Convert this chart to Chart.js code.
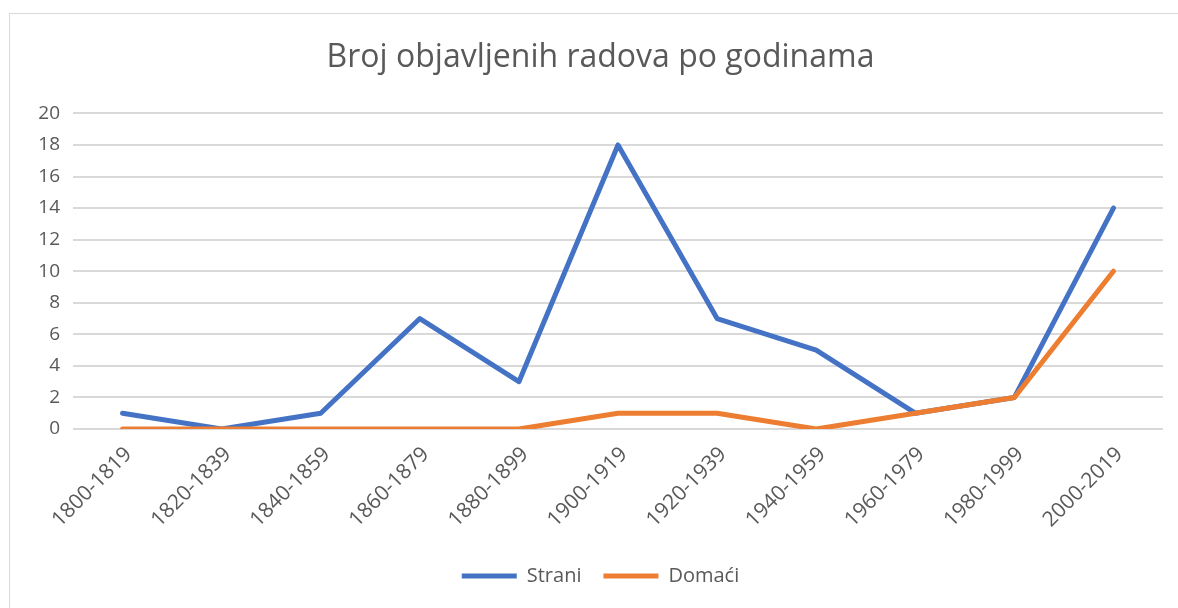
<!DOCTYPE html>
<html>
<head>
<meta charset="utf-8">
<script src="https://cdn.jsdelivr.net/npm/chart.js@4"></script>
<style>
  html, body { margin: 0; padding: 0; background: #fff; overflow: hidden; }
  #frame { position: absolute; left: 9px; top: 13px; width: 1200px; height: 640px; border: 1px solid #d9d9d9; }
  #wrap { position: absolute; left: 0; top: 0; width: 1178px; height: 608px; }
</style>
</head>
<body>
<div id="frame"></div>
<div id="wrap"><canvas id="chart"></canvas></div>
<script>
const categories = ['1800-1819', '1820-1839', '1840-1859', '1860-1879', '1880-1899', '1900-1919',
  '1920-1939', '1940-1959', '1960-1979', '1980-1999', '2000-2019'];
const strani = [1, 0, 1, 7, 3, 18, 7, 5, 1, 2, 14];
const domaci = [0, 0, 0, 0, 0, 1, 1, 0, 1, 2, 10];

const FONT = 'Open Sans';
const GREY = '#595959';

new Chart(document.getElementById('chart'), {
  type: 'line',
  data: {
    labels: categories,
    datasets: [
      { label: 'Strani', data: strani, borderColor: '#4472C4', backgroundColor: '#4472C4', order: 2 },
      { label: 'Domaći', data: domaci, borderColor: '#ED7D31', backgroundColor: '#ED7D31', order: 1 },
    ],
  },
  options: {
    responsive: true,
    maintainAspectRatio: false,
    animation: false,
    layout: { padding: { left: 38, right: 15, top: 0, bottom: 12 } },
    elements: {
      line: { borderWidth: 5, tension: 0, borderCapStyle: 'round', borderJoinStyle: 'round' },
      point: { radius: 0, hoverRadius: 0 },
    },
    plugins: {
      title: {
        display: true,
        text: 'Broj objavljenih radova po godinama',
        color: GREY,
        font: { family: FONT, size: 32, weight: 'normal' },
        padding: { top: 39, bottom: 36 },
      },
      legend: {
        position: 'bottom',
        labels: {
          color: GREY,
          font: { family: FONT, size: 20 },
          boxWidth: 55,
          boxHeight: 5,
          padding: 22,
          sort: (a, b) => a.datasetIndex - b.datasetIndex,
          generateLabels(chart) {
            return chart.data.datasets.map((d, i) => ({
              text: d.label, fillStyle: d.borderColor, strokeStyle: d.borderColor,
              lineWidth: 0, datasetIndex: i, fontColor: GREY,
            }));
          },
        },
      },
      tooltip: { enabled: false },
    },
    scales: {
      x: {
        offset: true,
        grid: { display: false, drawTicks: false },
        border: { display: false },
        ticks: { color: GREY, font: { family: FONT, size: 21 }, minRotation: 45, maxRotation: 45, padding: 13, labelOffset: 6 },
        afterFit(scale) { scale.height = 115; },
      },
      y: {
        min: 0,
        max: 20,
        grid: { color: '#d9d9d9', lineWidth: 2, drawTicks: false },
        border: { display: false },
        ticks: { stepSize: 2, color: GREY, font: { family: FONT, size: 19 }, padding: 13 },
        afterFit(scale) { scale.width = 35; },
      },
    },
  },
});
</script>
</body>
</html>
